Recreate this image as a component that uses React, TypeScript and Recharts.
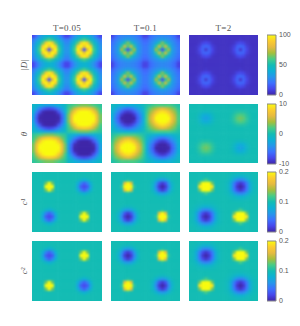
import React from 'react'
import { ScatterChart, Scatter, XAxis, YAxis, ReferenceLine, BarChart, Bar } from 'recharts'

// one quarter of a panel: rows run from the panel edge in to the blob centre
const D_005 = [
  [10, 20, 29, 36, 41, 43, 41, 36, 29, 20, 10],
  [23, 30, 39, 46, 54, 60, 54, 46, 39, 30, 23],
  [27, 38, 47, 62, 90, 98, 90, 62, 47, 38, 27],
  [30, 42, 55, 90, 100, 84, 100, 90, 55, 42, 30],
  [30, 43, 60, 100, 80, 14, 80, 100, 60, 43, 30],
]
const D_01 = [
  [9, 18, 22, 25, 26, 27, 26, 25, 22, 18, 9],
  [17, 22, 26, 29, 32, 33, 32, 29, 26, 22, 17],
  [20, 25, 30, 37, 52, 66, 52, 37, 30, 25, 20],
  [22, 27, 33, 55, 76, 58, 76, 55, 33, 27, 22],
  [22, 27, 35, 70, 54, 12, 54, 70, 35, 27, 22],
]
const D_2 = [
  [4, 4, 4, 4, 4, 4, 4, 4, 4, 4, 4],
  [4, 4, 4, 4, 4, 5, 4, 4, 4, 4, 4],
  [4, 4, 4, 5, 9, 11, 9, 5, 4, 4, 4],
  [4, 4, 5, 8, 16, 18, 16, 8, 5, 4, 4],
  [4, 4, 5, 10, 17, 6, 17, 10, 5, 4, 4],
]

const THETA_005_POS = [
  [1, 1.5, 2, 2.5, 3, 3, 3, 2.5, 2, 1.5, 1],
  [1.5, 3, 5, 6.5, 7.5, 8, 7.5, 6.5, 5, 3, 1.5],
  [2, 5, 7.5, 9.5, 10, 10, 10, 9.5, 7.5, 5, 2],
  [3, 6.5, 9.5, 10, 10, 10, 10, 10, 9.5, 6.5, 3],
  [3, 7, 10, 10, 10, 10, 10, 10, 10, 7, 3],
]
const THETA_005_NEG = [
  [-1, -1.5, -2, -2.5, -3, -3, -3, -2.5, -2, -1.5, -1],
  [-1.5, -3, -5, -6.5, -7.5, -8, -7.5, -6.5, -5, -3, -1.5],
  [-2, -5, -7.5, -9.5, -10, -10, -10, -9.5, -7.5, -5, -2],
  [-3, -6.5, -9.5, -10, -10, -10, -10, -10, -9.5, -6.5, -3],
  [-3, -7, -10, -10, -10, -10, -10, -10, -10, -7, -3],
]
const THETA_01_POS = [
  [0.5, 1, 1.5, 2, 2, 2, 2, 2, 1.5, 1, 0.5],
  [1, 2.5, 3.5, 4.5, 5.5, 6, 5.5, 4.5, 3.5, 2.5, 1],
  [1.5, 3.5, 5, 7, 8.5, 9, 8.5, 7, 5, 3.5, 1.5],
  [2, 4.5, 6.5, 9, 10, 10, 10, 9, 6.5, 4.5, 2],
  [2, 5, 7, 10, 10, 10, 10, 10, 7, 5, 2],
]
const THETA_01_NEG = [
  [-0.5, -1, -1.5, -2, -2, -2, -2, -2, -1.5, -1, -0.5],
  [-1, -2.5, -3.5, -4.5, -5.5, -6, -5.5, -4.5, -3.5, -2.5, -1],
  [-1.5, -3.5, -5, -7, -8.5, -9, -8.5, -7, -5, -3.5, -1.5],
  [-2, -4.5, -6.5, -9, -10, -10, -10, -9, -6.5, -4.5, -2],
  [-2, -5, -7, -10, -10, -10, -10, -10, -7, -5, -2],
]
const THETA_2_POS = [
  [0, 0, 0, 0, 0, 0, 0, 0, 0, 0, 0],
  [0, 0, 0, 0, 0, 0, 0, 0, 0, 0, 0],
  [0, 0, 0, 0.3, 0.6, 0.7, 0.6, 0.3, 0, 0, 0],
  [0, 0, 0.2, 0.9, 1.9, 2.3, 1.9, 0.9, 0.2, 0, 0],
  [0, 0, 0.3, 1.2, 2.5, 3, 2.5, 1.2, 0.3, 0, 0],
]
const THETA_2_NEG = [
  [0, 0, 0, 0, 0, 0, 0, 0, 0, 0, 0],
  [0, 0, 0, 0, 0, 0, 0, 0, 0, 0, 0],
  [0, 0, 0, -0.3, -0.6, -0.7, -0.6, -0.3, 0, 0, 0],
  [0, 0, -0.2, -0.9, -1.9, -2.3, -1.9, -0.9, -0.2, 0, 0],
  [0, 0, -0.3, -1.2, -2.5, -3, -2.5, -1.2, -0.3, 0, 0],
]

const C_005_HOT = [
  [0.1, 0.1, 0.1, 0.1, 0.1, 0.1, 0.1, 0.1, 0.1, 0.1, 0.1],
  [0.1, 0.1, 0.1, 0.1, 0.1, 0.1, 0.1, 0.1, 0.1, 0.1, 0.1],
  [0.1, 0.1, 0.1, 0.1, 0.1, 0.1, 0.1, 0.1, 0.1, 0.1, 0.1],
  [0.1, 0.1, 0.1, 0.1, 0.13, 0.21, 0.13, 0.1, 0.1, 0.1, 0.1],
  [0.1, 0.1, 0.1, 0.1, 0.2, 0.26, 0.2, 0.1, 0.1, 0.1, 0.1],
]
const C_005_COLD = [
  [0.1, 0.1, 0.1, 0.1, 0.1, 0.1, 0.1, 0.1, 0.1, 0.1, 0.1],
  [0.1, 0.1, 0.1, 0.1, 0.1, 0.098, 0.1, 0.1, 0.1, 0.1, 0.1],
  [0.1, 0.1, 0.1, 0.097, 0.088, 0.08, 0.088, 0.097, 0.1, 0.1, 0.1],
  [0.1, 0.1, 0.098, 0.08, 0.05, 0.032, 0.05, 0.08, 0.098, 0.1, 0.1],
  [0.1, 0.1, 0.097, 0.07, 0.03, 0.02, 0.03, 0.07, 0.097, 0.1, 0.1],
]
const C_01_HOT = [
  [0.1, 0.1, 0.1, 0.1, 0.1, 0.1, 0.1, 0.1, 0.1, 0.1, 0.1],
  [0.1, 0.1, 0.1, 0.1, 0.1, 0.1, 0.1, 0.1, 0.1, 0.1, 0.1],
  [0.1, 0.1, 0.1, 0.1, 0.1, 0.105, 0.1, 0.1, 0.1, 0.1, 0.1],
  [0.1, 0.1, 0.1, 0.1, 0.17, 0.22, 0.17, 0.1, 0.1, 0.1, 0.1],
  [0.1, 0.1, 0.1, 0.11, 0.22, 0.26, 0.22, 0.11, 0.1, 0.1, 0.1],
]
const C_01_COLD = [
  [0.1, 0.1, 0.1, 0.1, 0.1, 0.1, 0.1, 0.1, 0.1, 0.1, 0.1],
  [0.1, 0.1, 0.1, 0.098, 0.095, 0.094, 0.095, 0.098, 0.1, 0.1, 0.1],
  [0.1, 0.1, 0.096, 0.085, 0.07, 0.062, 0.07, 0.085, 0.096, 0.1, 0.1],
  [0.1, 0.098, 0.088, 0.06, 0.025, 0.012, 0.025, 0.06, 0.088, 0.098, 0.1],
  [0.1, 0.098, 0.085, 0.05, 0.012, 0, 0.012, 0.05, 0.085, 0.098, 0.1],
]
const C_2_HOT = [
  [0.1, 0.1, 0.1, 0.1, 0.1, 0.1, 0.1, 0.1, 0.1, 0.1, 0.1],
  [0.1, 0.1, 0.1, 0.1, 0.1, 0.1, 0.1, 0.1, 0.1, 0.1, 0.1],
  [0.1, 0.1, 0.1, 0.1, 0.105, 0.12, 0.105, 0.1, 0.1, 0.1, 0.1],
  [0.1, 0.1, 0.1, 0.13, 0.22, 0.26, 0.22, 0.13, 0.1, 0.1, 0.1],
  [0.1, 0.1, 0.1, 0.19, 0.26, 0.26, 0.26, 0.19, 0.1, 0.1, 0.1],
]
const C_2_COLD = [
  [0.1, 0.1, 0.098, 0.097, 0.096, 0.096, 0.096, 0.097, 0.098, 0.1, 0.1],
  [0.1, 0.098, 0.095, 0.09, 0.085, 0.083, 0.085, 0.09, 0.095, 0.098, 0.1],
  [0.098, 0.096, 0.088, 0.07, 0.055, 0.05, 0.055, 0.07, 0.088, 0.096, 0.098],
  [0.098, 0.093, 0.075, 0.045, 0.02, 0.01, 0.02, 0.045, 0.075, 0.093, 0.098],
  [0.098, 0.093, 0.075, 0.04, 0.01, 0, 0.01, 0.04, 0.075, 0.093, 0.098],
]

const COLUMN_TITLES = ['T=0.05', 'T=0.1', 'T=2']
const ROW_LABELS = ['|D|', 'θ', 'c¹', 'c²']
const BAR_RANGES = [[0, 100], [-10, 10], [0, 0.2], [0, 0.2]]
const BAR_TICKS = [[0, 50, 100], [-10, 0, 10], [0, 0.1, 0.2], [0, 0.1, 0.2]]

// parula, bottom to top
const PARULA = ['#3e26a8', '#4747eb', '#3d70ff', '#2696eb', '#0db0d6', '#13bcb4', '#47cc87', '#a5bf3b', '#e6ba40', '#fccc2e', '#f9fb0e']

const COL_X = [32, 111, 189]
const COL_W = [70, 69, 69]
const ROW_Y = [35, 104, 172, 241]
const ROW_H = [60, 59, 60, 60]

const TILE_ORDER = [0, 1, 2, 3, 4, 3, 2, 1, 0]
const band = (left: number[][], right: number[][]) => TILE_ORDER.map((i) => [...left[i], ...right[i]])
const panel = (a: number[][], b: number[][], c: number[][], d: number[][]) => [...band(a, b), ...band(c, d)]

const PANELS = [
  [panel(D_005, D_005, D_005, D_005), panel(D_01, D_01, D_01, D_01), panel(D_2, D_2, D_2, D_2)],
  [
    panel(THETA_005_NEG, THETA_005_POS, THETA_005_POS, THETA_005_NEG),
    panel(THETA_01_NEG, THETA_01_POS, THETA_01_POS, THETA_01_NEG),
    panel(THETA_2_NEG, THETA_2_POS, THETA_2_POS, THETA_2_NEG),
  ],
  [
    panel(C_005_HOT, C_005_COLD, C_005_COLD, C_005_HOT),
    panel(C_01_HOT, C_01_COLD, C_01_COLD, C_01_HOT),
    panel(C_2_HOT, C_2_COLD, C_2_COLD, C_2_HOT),
  ],
  [
    panel(C_005_COLD, C_005_HOT, C_005_HOT, C_005_COLD),
    panel(C_01_COLD, C_01_HOT, C_01_HOT, C_01_COLD),
    panel(C_2_COLD, C_2_HOT, C_2_HOT, C_2_COLD),
  ],
]

const parula = (v: number, min: number, max: number) => {
  const t = Math.min(1, Math.max(0, (v - min) / (max - min))) * (PARULA.length - 1)
  const i = Math.min(PARULA.length - 2, Math.floor(t))
  const f = t - i
  const ch = (hex: string, k: number) => parseInt(hex.slice(1 + k * 2, 3 + k * 2), 16)
  const mix = [0, 1, 2].map((k) => Math.round(ch(PARULA[i], k) * (1 - f) + ch(PARULA[i + 1], k) * f))
  return `rgb(${mix[0]},${mix[1]},${mix[2]})`
}

const Heatmap = ({ rows, range, width, height }: any) => {
  const nRows = rows.length
  const nCols = rows[0].length
  const data = rows.flatMap((row: number[], r: number) => row.map((v, c) => ({ x: c + 0.5, y: r + 0.5, v, r, c })))
  const cw = width / nCols
  const ch = height / nRows

  const cell = ({ cx, cy, payload }: any) => {
    // edge cells run past the frame so the soft filter does not fade there
    const left = cx - cw / 2 - (payload.c === 0 ? 4 : 0.3)
    const right = cx + cw / 2 + (payload.c === nCols - 1 ? 4 : 0.3)
    const top = cy - ch / 2 - (payload.r === 0 ? 4 : 0.3)
    const bottom = cy + ch / 2 + (payload.r === nRows - 1 ? 4 : 0.3)
    return <rect x={left} y={top} width={right - left} height={bottom - top} fill={parula(payload.v, range[0], range[1])} />
  }

  return (
    <ScatterChart width={width} height={height} margin={{ top: 0, right: 0, bottom: 0, left: 0 }}>
      <XAxis type="number" dataKey="x" domain={[0, nCols]} hide />
      <YAxis type="number" dataKey="y" domain={[0, nRows]} reversed hide />
      <Scatter data={data} shape={cell} isAnimationActive={false} />
      <ReferenceLine x={0} stroke="#999" strokeWidth={2} />
      <ReferenceLine y={0} stroke="#999" strokeWidth={2} />
      <ReferenceLine x={nCols} stroke="rgba(70,70,70,0.6)" strokeWidth={2} />
      <ReferenceLine y={nRows} stroke="rgba(90,90,90,0.6)" strokeWidth={2} />
    </ScatterChart>
  )
}

const ColorBar = ({ range, ticks, id }: any) => (
  <BarChart
    width={33}
    height={71}
    data={[{ name: 'c', span: range }]}
    margin={{ top: 5, right: 0, bottom: 6, left: 0 }}
    barCategoryGap={0}
  >
    <defs>
      <linearGradient id={id} x1="0" y1="1" x2="0" y2="0">
        {PARULA.map((c, i) => (
          <stop key={i} offset={i / (PARULA.length - 1)} stopColor={c} />
        ))}
      </linearGradient>
    </defs>
    <XAxis dataKey="name" hide />
    <YAxis
      orientation="right"
      width={24}
      type="number"
      domain={range}
      ticks={ticks}
      interval={0}
      axisLine={false}
      tickLine={false}
      tickSize={0}
      tickMargin={3}
      tick={{ fontSize: 7, fill: '#555', fontFamily: 'Liberation Sans' }}
    />
    <Bar dataKey="span" fill={`url(#${id})`} stroke="#888" strokeWidth={1} isAnimationActive={false} />
  </BarChart>
)

const box = (left: number, top: number): React.CSSProperties => ({ position: 'absolute', left, top })

export default function App() {
  return (
    <div style={{ position: 'absolute', left: 0, top: 0, width: 300, height: 326, background: '#fff', overflow: 'hidden' }}>
      <style>{'.recharts-scatter{filter:blur(1.05px)}'}</style>
      {COLUMN_TITLES.map((t, i) => (
        <div
          key={t}
          style={{
            ...box(COL_X[i], 23),
            width: COL_W[i],
            textAlign: 'center',
            font: '9px "Liberation Serif"',
            letterSpacing: 0.3,
            color: '#555',
            lineHeight: '10px',
          }}
        >
          {t}
        </div>
      ))}
      {ROW_LABELS.map((t, r) => (
        <div
          key={t}
          style={{
            ...box(14, ROW_Y[r] + 25),
            width: 20,
            textAlign: 'center',
            transform: 'rotate(-90deg)',
            font: 'italic 9px "Liberation Serif"',
            color: '#555',
            lineHeight: '10px',
          }}
        >
          {t}
        </div>
      ))}
      {PANELS.map((cols, r) =>
        cols.map((rows, c) => (
          <div key={`${r}-${c}`} style={box(COL_X[c], ROW_Y[r])}>
            <Heatmap rows={rows} range={BAR_RANGES[r]} width={COL_W[c]} height={ROW_H[r]} />
          </div>
        )),
      )}
      {BAR_RANGES.map((range, r) => (
        <div key={r} style={box(267, ROW_Y[r] - 5)}>
          <ColorBar range={range} ticks={BAR_TICKS[r]} id={`parula${r}`} />
        </div>
      ))}
    </div>
  )
}
